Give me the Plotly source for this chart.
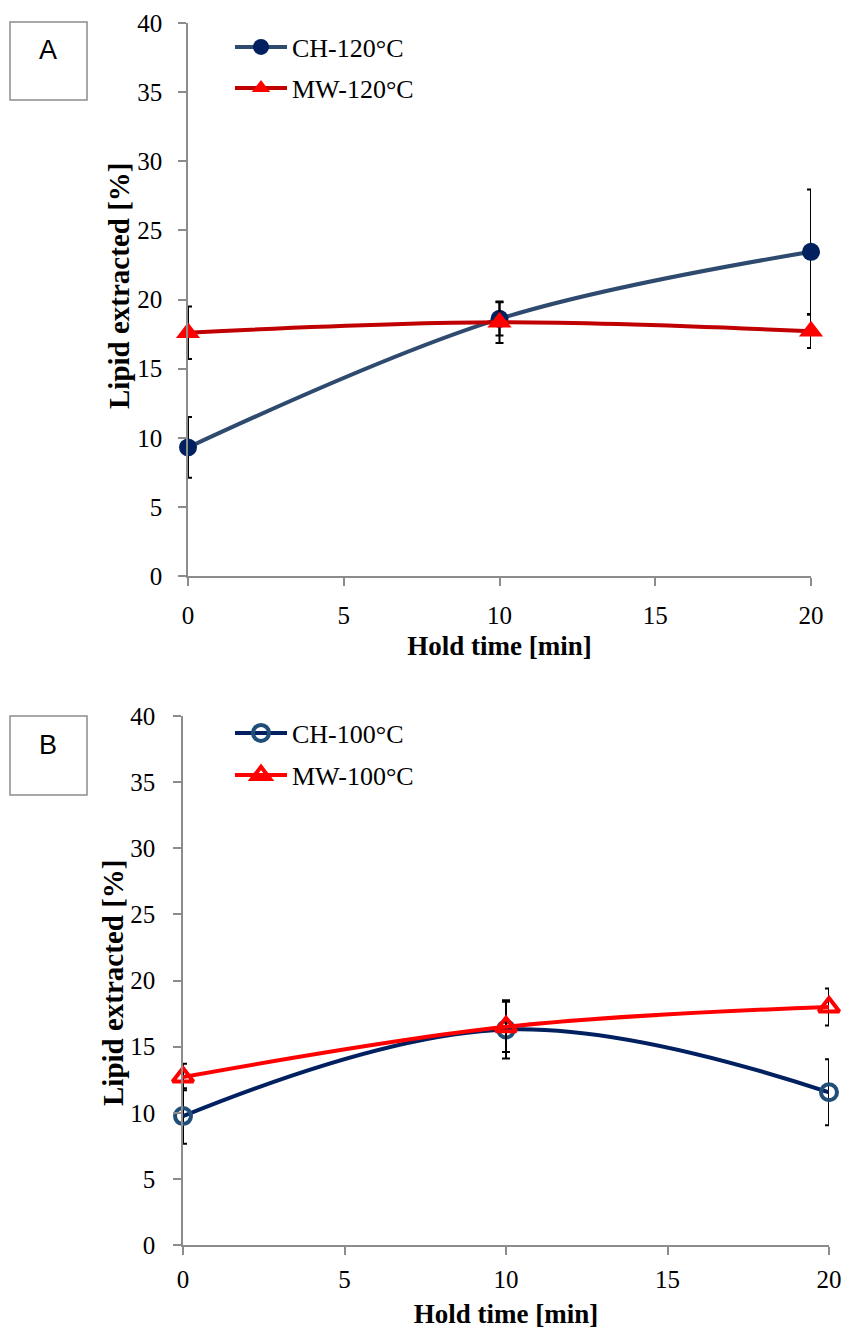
import plotly.graph_objects as go

W, H = 846, 1330

# ---- data ----
hold_time = [0, 10, 20]
ch120 = [9.3, 18.6, 23.45]
ch120_err = [2.2, 1.2, 4.5]
mw120 = [17.6, 18.35, 17.7]
mw120_err = [1.9, 1.5, 1.2]
ch100 = [9.75, 16.3, 11.55]
ch100_err = [2.1, 2.2, 2.5]
mw100 = [12.7, 16.5, 18.0]
mw100_err = [1.0, 1.9, 1.4]

x_ticks = [0, 5, 10, 15, 20]
y_ticks = [0, 5, 10, 15, 20, 25, 30, 35, 40]

SERIF = "Liberation Serif"
AXIS_GRAY = "#8c8c8c"

fig = go.Figure()

def err(vals):
    return dict(type="data", array=vals, color="black", thickness=2, width=4, visible=True)

fig.add_trace(go.Scatter(
    x=hold_time, y=ch120, name="CH-120°C", mode="lines+markers",
    line=dict(color="#2E4A6E", width=4, shape="spline", smoothing=1),
    marker=dict(symbol="circle", size=18, color="#002060"),
    error_y=err(ch120_err), xaxis="x", yaxis="y", legend="legend", cliponaxis=False))
fig.add_trace(go.Scatter(
    x=hold_time, y=mw120, name="MW-120°C", mode="lines+markers",
    line=dict(color="#C00000", width=4, shape="spline", smoothing=1),
    marker=dict(symbol="triangle-up", size=21, color="#FF0000"),
    error_y=err(mw120_err), xaxis="x", yaxis="y", legend="legend2", cliponaxis=False))
fig.add_trace(go.Scatter(
    x=hold_time, y=ch100, name="CH-100°C", mode="lines+markers",
    line=dict(color="#002060", width=4, shape="spline", smoothing=1.1),
    marker=dict(symbol="circle-open", size=16, color="#1F4E79", line=dict(width=4, color="#1F4E79")),
    error_y=err(ch100_err), xaxis="x2", yaxis="y2", legend="legend3", cliponaxis=False))
fig.add_trace(go.Scatter(
    x=hold_time, y=mw100, name="MW-100°C", mode="lines+markers",
    line=dict(color="#FF0000", width=4, shape="spline", smoothing=1),
    marker=dict(symbol="triangle-up-open", size=18, color="#FF0000", line=dict(width=4, color="#FF0000")),
    error_y=err(mw100_err), xaxis="x2", yaxis="y2", legend="legend4", cliponaxis=False))

def xdom(a, b):
    return [a / W, b / W]

def ydom(top, bottom):
    return [1 - bottom / H, 1 - top / H]

ax_common = dict(showgrid=False, zeroline=False, showline=True, linecolor=AXIS_GRAY, linewidth=1.5,
                 ticks="outside", ticklen=8, tickcolor=AXIS_GRAY, tickwidth=1.5, automargin=False)
xtick_font = dict(family=SERIF, size=25, color="black")
ytick_font = dict(family=SERIF, size=25, color="black")
xtitle_font = dict(family=SERIF, size=27, color="black", weight="bold")
ytitle_font = dict(family=SERIF, size=29, color="black", weight="bold")

fig.update_layout(
    width=W, height=H, margin=dict(l=0, r=0, t=0, b=0, autoexpand=False),
    paper_bgcolor="white", plot_bgcolor="white",
    xaxis=dict(domain=xdom(188, 811), range=[0, 20], tickvals=x_ticks, anchor="y", tickfont=xtick_font,
               ticklabelstandoff=8,
               title=dict(text="Hold time [min]", font=xtitle_font, standoff=8), **ax_common),
    yaxis=dict(domain=ydom(23, 576), range=[0, 40], tickvals=y_ticks, anchor="x", tickfont=ytick_font,
               ticklabelstandoff=11, **ax_common),
    xaxis2=dict(domain=xdom(183, 829), range=[0, 20], tickvals=x_ticks, anchor="y2", tickfont=xtick_font,
                ticklabelstandoff=3,
                title=dict(text="Hold time [min]", font=xtitle_font, standoff=12), **ax_common),
    yaxis2=dict(domain=ydom(716, 1245), range=[0, 40], tickvals=y_ticks, anchor="x2", tickfont=ytick_font,
                ticklabelstandoff=13, **ax_common),
    showlegend=True,
)

leg_common = dict(bgcolor="rgba(0,0,0,0)", borderwidth=0, xanchor="left", yanchor="middle",
                  font=dict(family=SERIF, size=26, color="black"), itemwidth=52, tracegroupgap=0)
fig.update_layout(
    legend=dict(x=230 / W, y=1 - 47 / H, **leg_common),
    legend2=dict(x=230 / W, y=1 - 88 / H, **leg_common),
    legend3=dict(x=230 / W, y=1 - 733 / H, **leg_common),
    legend4=dict(x=230 / W, y=1 - 775 / H, **leg_common),
)

shapes = []
annotations = []
for label, top, bot, ty in [("A", 22, 100, 50), ("B", 716, 795, 745)]:
    shapes.append(dict(type="rect", xref="paper", yref="paper",
                       x0=10 / W, x1=87 / W, y0=1 - bot / H, y1=1 - top / H,
                       line=dict(color=AXIS_GRAY, width=1.5), fillcolor="white"))
    annotations.append(dict(text=label, xref="paper", yref="paper", x=48 / W, y=1 - ty / H,
                            showarrow=False, xanchor="center", yanchor="middle",
                            font=dict(family="Liberation Sans", size=27, color="black")))
# y-axis titles
for cx, cy in [(119, 286), (113, 983)]:
    annotations.append(dict(text="Lipid extracted [%]", xref="paper", yref="paper",
                            x=cx / W, y=1 - cy / H, textangle=-90, showarrow=False,
                            xanchor="center", yanchor="middle", font=ytitle_font))
fig.update_layout(shapes=shapes, annotations=annotations)

fig.write_html("out.html",
               post_script="document.body.style.margin='0';document.body.style.overflow='hidden';")
